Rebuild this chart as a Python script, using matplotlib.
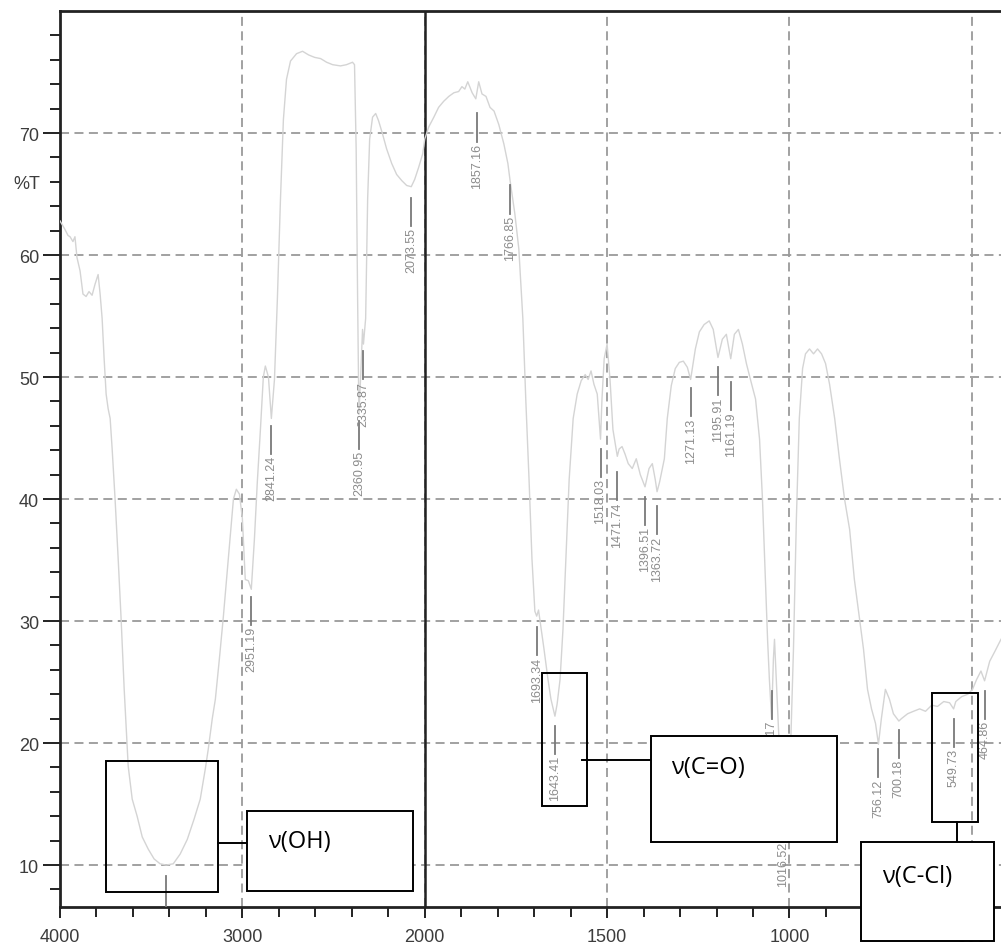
import numpy as np
import matplotlib
matplotlib.use('Agg')
import matplotlib.pyplot as plt
from matplotlib.patches import Rectangle
from matplotlib.ticker import FixedLocator, NullFormatter

# IR spectrum (wavenumber cm-1, %T)
wavenumber = [4000, 3973, 3956, 3945, 3929, 3918, 3907, 3890, 3874, 3857, 3841, 3824, 3808, 3791,
              3780, 3769, 3758, 3747, 3736, 3725, 3714, 3698, 3681, 3665, 3648, 3626, 3604, 3577,
              3549, 3516, 3484, 3451, 3418, 3379, 3341, 3302, 3264, 3231, 3203, 3187, 3165, 3148,
              3126, 3104, 3077, 3049, 3033, 3016, 3000, 2984, 2967, 2951, 2934, 2918, 2901, 2885,
              2874, 2857, 2850, 2841, 2824, 2808, 2791, 2775, 2758, 2736, 2703, 2670, 2637, 2604,
              2571, 2538, 2505, 2462, 2429, 2396, 2385, 2376, 2368, 2361, 2352, 2341, 2336, 2324,
              2313, 2302, 2286, 2269, 2253, 2231, 2209, 2181, 2154, 2126, 2099, 2074, 2055, 2033,
              2011, 2000,
              1989, 1975, 1962, 1948, 1934, 1920, 1907, 1898, 1890, 1882, 1870, 1860, 1852, 1843,
              1832, 1821, 1810, 1797, 1783, 1772, 1766, 1753, 1742, 1731, 1723, 1714, 1706, 1698,
              1693, 1688, 1673, 1662, 1654, 1643, 1637, 1629, 1621, 1613, 1604, 1593, 1582, 1571,
              1560, 1552, 1544, 1536, 1527, 1518, 1514, 1508, 1500, 1492, 1484, 1472, 1467, 1459,
              1451, 1442, 1431, 1420, 1409, 1396, 1385, 1376, 1368, 1363, 1356, 1343, 1335, 1324,
              1313, 1302, 1291, 1280, 1271, 1258, 1247, 1234, 1220, 1209, 1196, 1184, 1173, 1161,
              1151, 1140, 1129, 1118, 1107, 1093, 1082, 1074, 1066, 1060, 1055, 1049, 1044, 1041,
              1036, 1030, 1022, 1016, 1008, 997, 989, 981, 973, 964, 956, 945, 934, 923,
              912, 901, 890, 876, 863, 849, 835, 822, 808, 797, 786, 775, 764, 756,
              748, 737, 726, 715, 700, 693, 676, 660, 643, 627, 610, 594, 577, 561,
              550, 544, 528, 511, 498, 487, 475, 465, 451, 437, 420]
transmittance = [62.8, 62.1, 61.6, 61.5, 61.1, 61.5, 59.8, 58.7, 56.8, 56.6, 57.0, 56.7, 57.6, 58.4,
                 56.8, 54.8, 51.5, 48.6, 47.4, 46.6, 44.1, 40.0, 35.1, 30.2, 24.4, 18.1, 15.4, 14.0,
                 12.3, 11.3, 10.5, 10.1, 10.0, 10.1, 10.9, 12.1, 13.8, 15.4, 17.9, 19.5, 22.0, 23.6,
                 26.9, 30.4, 35.1, 40.0, 40.8, 40.4, 38.4, 33.4, 33.3, 32.6, 36.7, 41.4, 45.7, 50.0,
                 50.9, 50.0, 48.5, 46.6, 49.8, 56.4, 64.6, 71.1, 74.4, 75.9, 76.5, 76.7, 76.4, 76.2,
                 76.1, 75.8, 75.6, 75.5, 75.6, 75.8, 75.6, 68.7, 56.4, 47.0, 49.8, 53.9, 52.7, 54.8,
                 64.6, 69.5, 71.3, 71.6, 71.0, 69.9, 68.7, 67.5, 66.6, 66.1, 65.7, 65.6, 66.2, 67.2,
                 68.3, 69.5,
                 70.5, 71.3, 72.1, 72.6, 73.0, 73.3, 73.4, 73.8, 73.6, 74.2, 73.3, 72.8, 74.2, 73.2,
                 73.0, 72.1, 71.8, 70.7, 69.1, 67.5, 66.1, 63.4, 60.5, 54.8, 48.2, 41.6, 35.1, 30.8,
                 30.4, 30.9, 27.7, 25.2, 23.6, 22.2, 23.2, 25.2, 29.3, 35.1, 41.6, 46.6, 48.6, 49.7,
                 50.2, 49.8, 50.5, 49.4, 48.6, 44.9, 48.2, 51.5, 52.7, 49.8, 45.7, 43.5, 44.1, 44.3,
                 43.7, 42.9, 42.5, 43.3, 42.0, 41.0, 42.5, 42.9, 41.6, 40.6, 41.4, 43.3, 46.6, 49.3,
                 50.7, 51.2, 51.3, 50.8, 49.8, 52.3, 53.7, 54.3, 54.6, 53.9, 51.6, 53.1, 53.5, 51.5,
                 53.5, 53.9, 52.7, 51.1, 49.8, 48.2, 44.9, 40.0, 33.4, 28.5, 25.2, 22.0, 26.9, 28.5,
                 25.2, 21.1, 17.0, 15.4, 16.2, 19.5, 27.7, 38.4, 46.6, 50.7, 51.9, 52.3, 51.9, 52.3,
                 51.9, 51.1, 49.4, 46.6, 43.3, 40.0, 37.5, 33.4, 30.2, 27.7, 24.4, 22.8, 21.6, 19.9,
                 22.0, 24.4, 23.6, 22.4, 21.8, 22.0, 22.4, 22.6, 22.8, 22.6, 23.1, 23.0, 23.4, 23.3,
                 22.8, 23.4, 23.8, 24.0, 24.4, 25.2, 25.9, 25.1, 26.7, 27.5, 28.5]

# peak picks: wavenumber and %T where the marker line starts
peak_wn = [2951.19, 2841.24, 2360.95, 2335.87, 2073.55, 1857.16, 1766.85, 1693.34, 1643.41,
           1518.03, 1471.74, 1396.51, 1363.72, 1271.13, 1195.91, 1161.19, 1049.17, 1016.52,
           756.12, 700.18, 549.73, 464.86]
peak_top = [32.0, 46.0, 46.4, 52.1, 64.7, 71.6, 65.7, 29.5, 21.4,
            44.1, 42.2, 40.2, 39.4, 49.1, 50.8, 49.6, 24.3, 14.4,
            19.5, 21.1, 22.0, 24.3]
oh_peak = 3418
oh_top = 9.1

x_major = [4000, 3000, 2000, 1500, 1000, 500]
x_minor = list(range(3800, 2000, -200)) + list(range(1900, 400, -100))
y_major = [10, 20, 30, 40, 50, 60, 70]
y_minor = list(range(8, 80, 2))


def fwd(w):
    # left half (4000-2000) is drawn at half the scale of the right half
    w = np.asarray(w, dtype=float)
    return np.where(w >= 2000, 1000 + w / 2, w)


def inv(u):
    u = np.asarray(u, dtype=float)
    return np.where(u >= 2000, 2 * (u - 1000), u)


fig = plt.figure(figsize=(10.01, 9.45), dpi=100)
ax = fig.add_axes([60 / 1001, 37 / 945, 941 / 1001, 896 / 945])
ax.set_xscale('function', functions=(fwd, inv))
ax.set_xlim(4000, 420)
ax.set_ylim(6.56, 80)

ax.plot(wavenumber, transmittance, color='#d4d4d4', lw=1.0, zorder=3)

# peak labels
for w, top in zip(peak_wn, peak_top):
    ax.plot([w, w], [top, top - 2.3], color='#7a7a7a', lw=1.3, zorder=4)
    ax.text(w, top - 2.4, '{:.2f}'.format(w), rotation=90, ha='center', va='top',
            fontsize=9, color='#8c8c8c', family='Liberation Sans', zorder=4)
ax.plot([oh_peak, oh_peak], [oh_top, 6.0], color='#7a7a7a', lw=1.3, zorder=4)

# axes styling
ax.xaxis.set_major_locator(FixedLocator(x_major))
ax.xaxis.set_minor_locator(FixedLocator(x_minor))
ax.xaxis.set_minor_formatter(NullFormatter())
ax.set_xticklabels([str(v) for v in x_major])
ax.yaxis.set_major_locator(FixedLocator(y_major))
ax.yaxis.set_minor_locator(FixedLocator(y_minor))
ax.yaxis.set_minor_formatter(NullFormatter())
ax.set_yticklabels([str(v) for v in y_major])

ax.tick_params(axis='both', which='both', direction='out', color='#222222', width=1.4,
               labelsize=13, labelcolor='#3c3c3c')
ax.tick_params(axis='y', which='major', length=12, pad=3)
ax.tick_params(axis='y', which='minor', length=7)
ax.tick_params(axis='x', which='major', length=8, pad=7)
ax.tick_params(axis='x', which='minor', length=7)
for lab in ax.get_xticklabels() + ax.get_yticklabels():
    lab.set_family('Liberation Sans')

ax.grid(True, which='major', color='#9a9a9a', lw=1.3, linestyle=(0, (5, 3)))
ax.set_axisbelow(True)
ax.axvline(2000, color='#222222', lw=1.8, zorder=2)
for side in ['left', 'top', 'bottom']:
    ax.spines[side].set_color('#222222')
    ax.spines[side].set_linewidth(2.0)
ax.spines['right'].set_visible(False)

ax.set_ylabel('%T', rotation=0, fontsize=13, color='#3c3c3c', family='Liberation Sans',
              ha='center', va='center')
ax.yaxis.set_label_coords(-0.035, 0.807)

# band assignment boxes
box_kw = dict(fill=False, edgecolor='black', lw=1.4, zorder=10, clip_on=False)
lab_kw = dict(facecolor='white', edgecolor='black', lw=1.4, zorder=11, clip_on=False)
txt_kw = dict(fontsize=17, family=['Open Sans', 'DejaVu Sans'], color='black',
              ha='left', va='center', zorder=12, clip_on=False)
line_kw = dict(color='black', lw=1.4, zorder=10, clip_on=False)

# v(OH)
ax.add_patch(Rectangle((3132, 7.8), 3747 - 3132, 18.5 - 7.8, **box_kw))
ax.add_patch(Rectangle((2066, 7.87), 2973 - 2066, 14.4 - 7.87, **lab_kw))
ax.plot([3132, 2973], [11.8, 11.8], **line_kw)
ax.text(2857, 12.0, 'ν(OH)', **txt_kw)

# v(C=O)
ax.add_patch(Rectangle((1555, 14.8), 1679 - 1555, 25.7 - 14.8, **box_kw))
ax.add_patch(Rectangle((871, 11.9), 1379 - 871, 20.6 - 11.9, **lab_kw))
ax.plot([1570, 1379], [18.6, 18.6], **line_kw)
ax.text(1324, 18.0, 'ν(C=O)', **txt_kw)

# v(C-Cl)
ax.add_patch(Rectangle((484, 13.5), 608 - 484, 24.1 - 13.5, **box_kw))
ax.add_patch(Rectangle((440, 3.77), 805 - 440, 11.9 - 3.77, **lab_kw))
ax.plot([541, 541], [13.5, 11.9], **line_kw)
ax.text(747, 9.1, 'ν(C-Cl)', **txt_kw)

fig.savefig('out.png', dpi=100)
